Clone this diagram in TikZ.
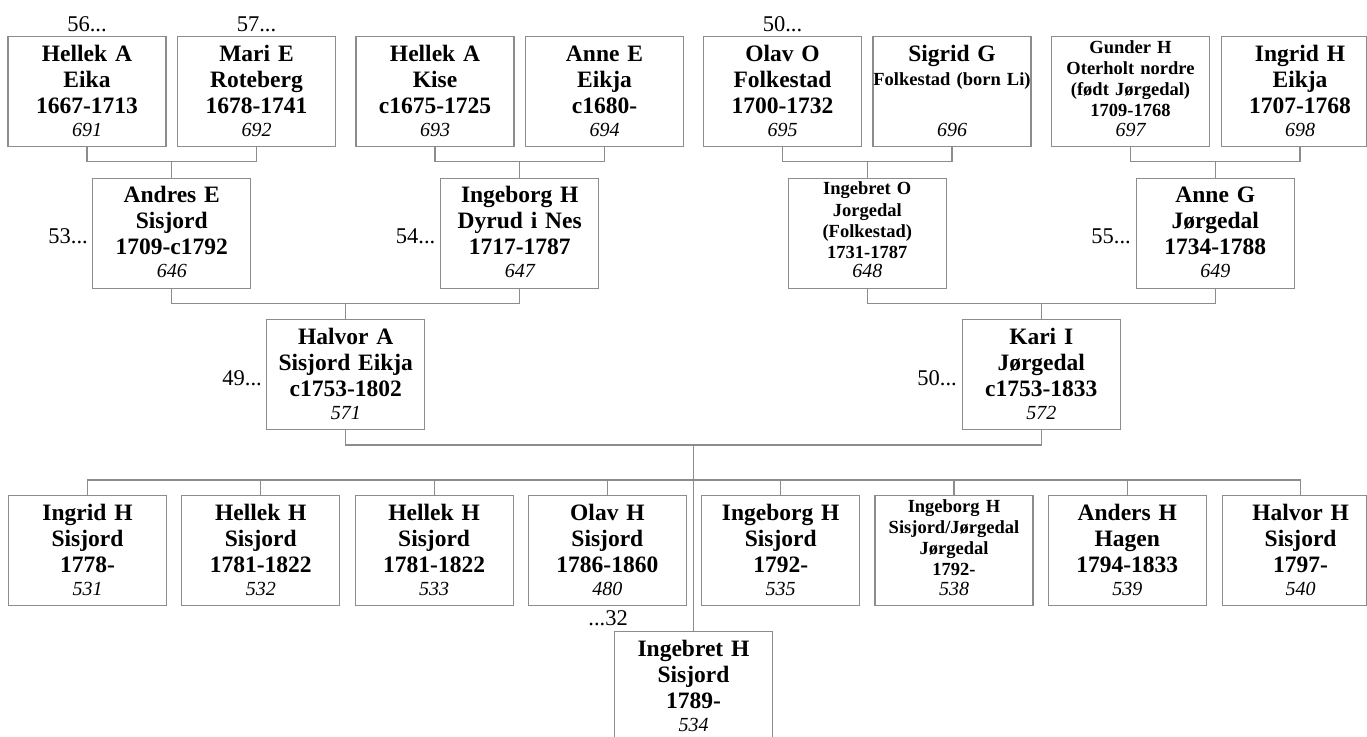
\documentclass[tikz,border=0pt]{standalone}
\usepackage{fontspec}
\setmainfont{Liberation Serif}
\definecolor{lc}{HTML}{8C8C8C}
\tikzset{
  pbox/.style={draw=lc, line width=1.1pt, minimum width=158, minimum height=110, inner sep=0, anchor=north},
  big/.style={font=\bfseries\fontsize{23.5}{26}\selectfont, text width=156, align=center, inner sep=0, anchor=base},
  small/.style={font=\bfseries\fontsize{18.5}{21.3}\selectfont, text width=190, align=center, inner sep=0, anchor=base},
  num/.style={font=\itshape\fontsize{20}{24}\selectfont, inner sep=0, anchor=base},
  gen/.style={font=\fontsize{22.5}{26}\selectfont, inner sep=0, anchor=base},
  genr/.style={font=\fontsize{22.5}{26}\selectfont, inner sep=0, anchor=base east},
  conn/.style={draw=lc, line width=1.1pt},
}
\newcommand\person[7]{%
  \node[pbox] (#1) at (#2,#3) {};
  \node[#4] (#1t) at (#2,#3+#5) {#6};
  \node[num] (#1n) at (#2,#3+100) {#7};
}
\begin{document}
\begin{tikzpicture}[x=1pt,y=-1pt]
\useasboundingbox (0,0) rectangle (1367,736);
\clip (0,0) rectangle (1367,736);

% ---- top row
\person{p691}{87}{36}{big}{25}{Hellek A\\Eika\\1667-1713}{691}
\person{p692}{256.5}{36}{big}{25}{Mari E\\Roteberg\\1678-1741}{692}
\person{p693}{435}{36}{big}{25}{Hellek A\\Kise\\c1675-1725}{693}
\person{p694}{604.5}{36}{big}{25}{Anne E\\Eikja\\c1680-}{694}
\person{p695}{782.5}{36}{big}{25}{Olav O\\Folkestad\\1700-1732}{695}
\person{p696}{952}{36}{big}{25}{Sigrid G}{696}
\node[small] (p696s) at (952,36+49) {Folkestad (born Li)};
\person{p697}{1130.5}{36}{small}{17}{Gunder H\\Oterholt nordre\\(født Jørgedal)\\1709-1768}{697}
\node[pbox, anchor=north west, minimum width=145.8] (p698) at (1220.5,36) {};
\node[big] (p698t) at (1300,36+25) {Ingrid H\\Eikja\\1707-1768};
\node[num] (p698n) at (1300,36+100) {698};
\coordinate (c698) at (1300,146);

% ---- second row
\person{p646}{171.75}{177.7}{big}{25}{Andres E\\Sisjord\\1709-c1792}{646}
\person{p647}{519.75}{177.7}{big}{25}{Ingeborg H\\Dyrud i Nes\\1717-1787}{647}
\person{p648}{867.25}{177.7}{small}{17}{Ingebret O\\Jorgedal\\(Folkestad)\\1731-1787}{648}
\person{p649}{1215.25}{177.7}{big}{25}{Anne G\\Jørgedal\\1734-1788}{649}

% ---- third row
\person{p571}{345.75}{319.3}{big}{25}{Halvor A\\Sisjord Eikja\\c1753-1802}{571}
\person{p572}{1041.25}{319.3}{big}{25}{Kari I\\Jørgedal\\c1753-1833}{572}

% ---- children
\person{p531}{87.5}{495}{big}{25}{Ingrid H\\Sisjord\\1778-}{531}
\person{p532}{260.8}{495}{big}{25}{Hellek H\\Sisjord\\1781-1822}{532}
\person{p533}{434.1}{495}{big}{25}{Hellek H\\Sisjord\\1781-1822}{533}
\person{p480}{607.4}{495}{big}{25}{Olav H\\Sisjord\\1786-1860}{480}
\person{p535}{780.7}{495}{big}{25}{Ingeborg H\\Sisjord\\1792-}{535}
\person{p538}{954.0}{495}{small}{17}{Ingeborg H\\Sisjord/Jørgedal\\Jørgedal\\1792-}{538}
\person{p539}{1127.3}{495}{big}{25}{Anders H\\Hagen\\1794-1833}{539}
\node[pbox, anchor=north west, minimum width=144.7] (p540) at (1221.6,495) {};
\node[big] (p540t) at (1300.6,495+25) {Halvor H\\Sisjord\\1797-};
\node[num] (p540n) at (1300.6,495+100) {540};
\coordinate (c540) at (1300.6,495);

\person{p534}{693.5}{631.3}{big}{25}{Ingebret H\\Sisjord\\1789-}{534}

% ---- generation labels
\node[gen] (l56) at (87,31.7) {56...};
\node[gen] (l57) at (256.5,31.7) {57...};
\node[gen] (l50a) at (782.5,31.7) {50...};
\node[genr] (l53) at (88,243.3) {53...};
\node[genr] (l54) at (435.5,243.3) {54...};
\node[genr] (l55) at (1131,243.3) {55...};
\node[genr] (l49) at (262,385) {49...};
\node[genr] (l50b) at (957,385) {50...};
\node[genr] (l32) at (628,625.7) {...32};

% ---- connectors
\coordinate (j1) at (171.75,161.7);
\coordinate (j2) at (519.75,161.7);
\coordinate (j3) at (867.25,161.7);
\coordinate (j4) at (1215.25,161.7);
\draw[conn] (p691.south) |- (j1) -| (p692.south);
\draw[conn] (j1) -- (p646.north);
\draw[conn] (p693.south) |- (j2) -| (p694.south);
\draw[conn] (j2) -- (p647.north);
\draw[conn] (p695.south) |- (j3) -| (p696.south);
\draw[conn] (j3) -- (p648.north);
\draw[conn] (p697.south) |- (j4) -| (c698);
\draw[conn] (j4) -- (p649.north);

\coordinate (j5) at (345.75,303.3);
\coordinate (j6) at (1041.25,303.3);
\draw[conn] (p646.south) |- (j5) -| (p647.south);
\draw[conn] (j5) -- (p571.north);
\draw[conn] (p648.south) |- (j6) -| (p649.south);
\draw[conn] (j6) -- (p572.north);

\coordinate (j7) at (693.5,445);
\coordinate (j8) at (693.5,480);
\draw[conn] (p571.south) |- (j7) -| (p572.south);
\draw[conn] (j7) -- (p534.north);
\draw[conn] (p531.north) -- (p531.north |- j8) -- (c540 |- j8) -- (c540);
\foreach \c in {532,533,480,535,538,539}
  \draw[conn] (p\c.north) -- (p\c.north |- j8);
\end{tikzpicture}
\end{document}
